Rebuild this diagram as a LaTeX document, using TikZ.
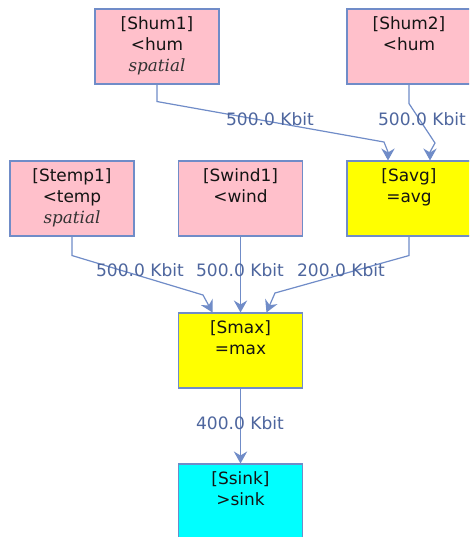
\documentclass[tikz,border=0pt]{standalone}
\usepackage{fontspec}
\setmainfont{DejaVu Sans}
\newfontfamily\spatfont{DejaVu Serif}
\usetikzlibrary{arrows.meta,calc}
\definecolor{pinkc}{RGB}{255,192,203}
\definecolor{yelc}{RGB}{255,255,0}
\definecolor{cyanc}{RGB}{0,255,255}
\definecolor{edgec}{RGB}{112,140,200}
\definecolor{labc}{RGB}{78,102,158}
\definecolor{spatc}{RGB}{50,50,50}
\definecolor{txtc}{RGB}{20,20,20}
\newcommand\boxtxt[1]{\begin{minipage}[c][56.25pt][t]{92pt}\centering\rule{0pt}{15pt}#1\end{minipage}}
\newcommand\spat{{\spatfont\itshape\fontsize{12.6pt}{16.5pt}\selectfont\color{spatc}spatial}}
\tikzset{
  box/.style={draw=edgec, line width=0.8pt, minimum width=93pt, minimum height=56.25pt,
    inner sep=0pt, text=txtc, font=\fontsize{12.7pt}{15.9pt}\selectfont},
  lab/.style={text=labc, inner sep=0pt, font=\fontsize{12.8pt}{14pt}\selectfont},
  edge/.style={draw=edgec, line width=0.9pt, -{Stealth[length=9pt,width=10pt,inset=3pt]}}
}
\begin{document}
\begin{tikzpicture}[x=0.75pt,y=-0.75pt]
\useasboundingbox (0,0) rectangle (469,537);
\clip (0,0) rectangle (469,537);
\fill[white] (0,0) rectangle (469,537);
% nodes
\node[box,fill=pinkc] (hum1) at (157,46.5) {\boxtxt{[Shum1]\\<hum\\\spat}};
\node[box,fill=pinkc] (hum2) at (409,46.5) {\boxtxt{[Shum2]\\<hum}};
\node[box,fill=pinkc] (temp1) at (72,198.5) {\boxtxt{[Stemp1]\\<temp\\\spat}};
\node[box,fill=pinkc] (wind1) at (240.5,198.5) {\boxtxt{[Swind1]\\<wind}};
\node[box,fill=yelc] (avg) at (409,198.5) {\boxtxt{[Savg]\\=avg}};
\node[box,fill=yelc] (max) at (240.5,350.5) {\boxtxt{[Smax]\\=max}};
\node[box,fill=cyanc] (sink) at (240.5,501.5) {\boxtxt{[Ssink]\\>sink}};
% edges
\draw[edge] (hum1.south) -- ++(0,17) -- (384,142) -- (388,152) -- ($(avg.north)+(-21,0)$);
\draw[edge] (hum2.south) -- ++(0,19) -- (435,143) -- (430,152) -- ($(avg.north)+(21,0)$);
\draw[edge] (temp1.south) -- ++(0,19) -- (203,295) -- ($(max.north)+(-28,0)$);
\draw[edge] (wind1.south) -- (max.north);
\draw[edge] (avg.south) -- ++(0,19) -- (275,293) -- ($(max.north)+(26,0)$);
\draw[edge] (max.south) -- (sink.north);
% labels
\node[lab] (l1) at (270,119) {500.0 Kbit};
\node[lab] (l2) at (422,119) {500.0 Kbit};
\node[lab] (l3) at (140,270) {500.0 Kbit};
\node[lab] (l4) at (240,270) {500.0 Kbit};
\node[lab] (l5) at (341,270) {200.0 Kbit};
\node[lab] (l6) at (240,423) {400.0 Kbit};
\end{tikzpicture}
\end{document}
